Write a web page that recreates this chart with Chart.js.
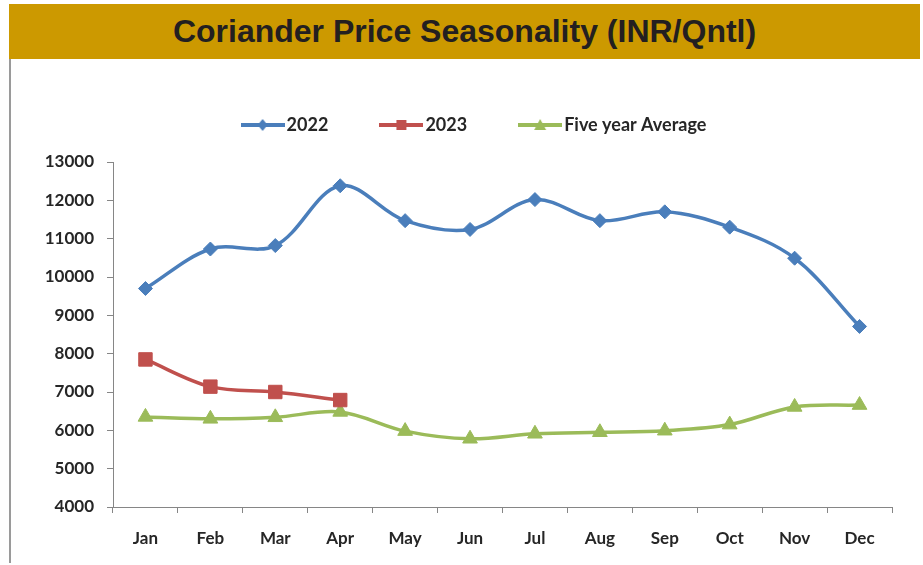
<!DOCTYPE html>
<html>
<head>
<meta charset="utf-8">
<script src="https://cdn.jsdelivr.net/npm/chart.js@4/dist/chart.umd.min.js"></script>
<style>
  html, body { margin: 0; padding: 0; background: #ffffff; width: 923px; height: 565px; overflow: hidden; }
  #banner { position: absolute; left: 9px; top: 4px; width: 911px; height: 55px; background: #CC9900;
    display: flex; align-items: center; justify-content: center;
    font-family: "Liberation Sans", Arial, sans-serif; font-weight: bold; font-size: 32px; color: #231F20; }
  #leftline { position: absolute; left: 9px; top: 59px; width: 2px; height: 504px; background: #9a9a9a; }
  #wrap { position: absolute; left: 0; top: 0; width: 923px; height: 565px; }
</style>
</head>
<body>
<div id="banner">Coriander Price Seasonality (INR/Qntl)</div>
<div id="leftline"></div>
<div id="wrap"><canvas id="c" width="923" height="565"></canvas></div>
<script>
const months = ['Jan','Feb','Mar','Apr','May','Jun','Jul','Aug','Sep','Oct','Nov','Dec'];
const series2022 = [9700, 10730, 10820, 12380, 11470, 11240, 12020, 11470, 11700, 11300, 10490, 8710];
const series2023 = [7850, 7140, 7000, 6790, null, null, null, null, null, null, null, null];
const fiveYearAvg = [6350, 6300, 6340, 6480, 5980, 5780, 5910, 5950, 5990, 6150, 6610, 6660];
const seriesNames = ['2022', '2023', 'Five year Average'];
const yMin = 4000, yMax = 13000, yStep = 1000;

const BLUE = '#4A7EBB', RED = '#C0504D', GREEN = '#9BBB59';

function legendImg(color, shape) {
  const c = document.createElement('canvas');
  c.width = 44; c.height = 16;
  const g = c.getContext('2d');
  g.strokeStyle = color; g.lineWidth = 4; g.lineCap = 'butt';
  g.beginPath(); g.moveTo(0, 8); g.lineTo(44, 8); g.stroke();
  g.fillStyle = color;
  g.beginPath();
  if (shape === 'diamond') { g.moveTo(22, 2); g.lineTo(27, 8); g.lineTo(22, 14); g.lineTo(17, 8); g.closePath(); }
  else if (shape === 'square') { g.rect(17, 3, 10, 10); }
  else { g.moveTo(22, 2); g.lineTo(28, 13); g.lineTo(16, 13); g.closePath(); }
  g.fill();
  return c;
}
const legendImgs = [legendImg(BLUE, 'diamond'), legendImg(RED, 'square'), legendImg(GREEN, 'triangle')];

Chart.defaults.font.family = 'Lato, "Open Sans", sans-serif';
Chart.defaults.font.size = 17;
Chart.defaults.font.weight = 'bold';
Chart.defaults.color = '#262626';

const legendFix = {
  id: 'legendFix',
  afterInit(chart) {
    const lg = chart.legend;
    if (!lg) return;
    const orig = lg.fit;
    lg.fit = function () {
      orig.call(this);
      this.height = 104;
      if (this.lineWidths && this.lineWidths.length) this.lineWidths[0] -= 22;
    };
  }
};

new Chart(document.getElementById('c'), {
  type: 'line',
  data: {
    labels: months,
    datasets: [
      { label: seriesNames[0], data: series2022, borderColor: BLUE, backgroundColor: BLUE, borderWidth: 3.5,
        pointStyle: 'rectRot', pointRadius: 7, pointBorderWidth: 1, tension: 0.35 },
      { label: seriesNames[1], data: series2023, borderColor: RED, backgroundColor: RED, borderWidth: 3.5,
        pointStyle: 'rect', pointRadius: 9.5, pointBorderWidth: 1, tension: 0.35 },
      { label: seriesNames[2], data: fiveYearAvg, borderColor: GREEN, backgroundColor: GREEN, borderWidth: 3.5,
        pointStyle: 'triangle', pointRadius: 8.5, pointBorderWidth: 1, tension: 0.35 }
    ]
  },
  options: {
    responsive: false,
    animation: false,
    layout: { padding: { left: 40, right: 31, top: 58, bottom: 0 } },
    plugins: {
      title: { display: false },
      tooltip: { enabled: false },
      legend: {
        position: 'top',
        labels: {
          usePointStyle: true,
          pointStyleWidth: 30,
          padding: 58,
          font: { size: 18, weight: 'bold' },
          generateLabels(chart) {
            const items = Chart.defaults.plugins.legend.labels.generateLabels(chart);
            items.forEach((it, i) => { it.pointStyle = legendImgs[i]; });
            return items;
          }
        }
      }
    },
    scales: {
      x: {
        offset: true,
        grid: { offset: true, drawOnChartArea: false, drawTicks: true, tickLength: 6, color: '#868686' },
        border: { display: true, color: '#868686', width: 1 },
        ticks: { padding: 15, maxRotation: 0, autoSkip: false },
        afterFit(s) { s.height = 58; }
      },
      y: {
        min: yMin, max: yMax,
        grid: { drawOnChartArea: false, drawTicks: true, tickLength: 6, color: '#868686' },
        border: { display: true, color: '#868686', width: 1 },
        ticks: { stepSize: yStep, padding: 13, callback: v => String(v) },
        afterFit(s) { s.width = 73; }
      }
    }
  },
  plugins: [legendFix]
});
</script>
</body>
</html>
